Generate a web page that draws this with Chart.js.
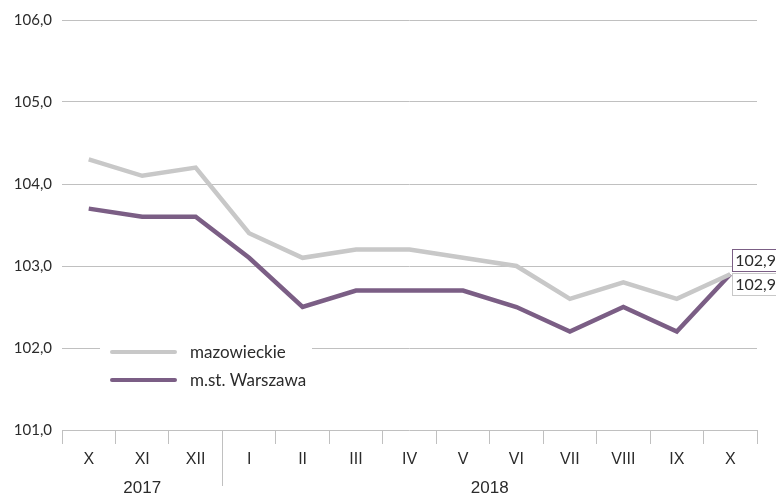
<!DOCTYPE html>
<html>
<head>
<meta charset="utf-8">
<script src="https://cdn.jsdelivr.net/npm/chart.js@4"></script>
<style>
  html, body { margin: 0; padding: 0; background: #fff; }
  #wrap { width: 776px; height: 496px; position: relative; }
</style>
</head>
<body>
<div id="wrap"><canvas id="chart"></canvas></div>
<script>
// months Oct 2017 - Oct 2018
const months = ['X', 'XI', 'XII', 'I', 'II', 'III', 'IV', 'V', 'VI', 'VII', 'VIII', 'IX', 'X'];
const years = [
  { label: '2017', from: 0, to: 2 },
  { label: '2018', from: 3, to: 12 },
];
const mazowieckie = [104.3, 104.1, 104.2, 103.4, 103.1, 103.2, 103.2, 103.1, 103.0, 102.6, 102.8, 102.6, 102.9];
const warszawa = [103.7, 103.6, 103.6, 103.1, 102.5, 102.7, 102.7, 102.7, 102.5, 102.2, 102.5, 102.2, 102.9];

const GRAY = '#c8c8c8';
const PURPLE = '#7b5e85';
const GRID = '#c0c0c0';
const TEXT = '#2b2b2b';
const NARROW = '"Liberation Sans Narrow", "Liberation Sans", sans-serif';

const fmt = v => v.toFixed(1).replace('.', ',');

// year labels + the long separator tick under the x axis
const yearPlugin = {
  id: 'years',
  afterDraw(chart) {
    const { ctx, scales: { x }, chartArea } = chart;
    ctx.save();
    ctx.font = '17px ' + NARROW;
    ctx.fillStyle = TEXT;
    ctx.textAlign = 'center';
    ctx.textBaseline = 'middle';
    const half = (x.getPixelForValue(1) - x.getPixelForValue(0)) / 2;
    years.forEach((y, i) => {
      const a = x.getPixelForValue(y.from) - half;
      const b = x.getPixelForValue(y.to) + half;
      ctx.fillText(y.label, (a + b) / 2, 488);
      if (i > 0) {
        ctx.strokeStyle = GRID;
        ctx.lineWidth = 1;
        ctx.beginPath();
        ctx.moveTo(Math.round(a) + 0.5, chartArea.bottom);
        ctx.lineTo(Math.round(a) + 0.5, 486);
        ctx.stroke();
      }
    });
    ctx.restore();
  }
};

// legend box sitting inside the plot
const legendPlugin = {
  id: 'inlegend',
  afterDatasetsDraw(chart) {
    const { ctx } = chart;
    ctx.save();
    ctx.fillStyle = '#fff';
    ctx.fillRect(100, 338, 212, 54);
    const items = [['mazowieckie', GRAY, 352], ['m.st. Warszawa', PURPLE, 380]];
    ctx.font = '17px Lato, sans-serif';
    ctx.textBaseline = 'middle';
    ctx.lineCap = 'round';
    items.forEach(([label, color, y]) => {
      ctx.strokeStyle = color;
      ctx.lineWidth = 4;
      ctx.beginPath();
      ctx.moveTo(112, y);
      ctx.lineTo(175, y);
      ctx.stroke();
      ctx.fillStyle = TEXT;
      ctx.fillText(label, 190, y + 1);
    });
    ctx.restore();
  }
};

// value boxes at the last point
const endLabelPlugin = {
  id: 'endlabels',
  afterDatasetsDraw(chart) {
    const { ctx } = chart;
    const last = months.length - 1;
    const xs = chart.scales.x.getPixelForValue(last);
    const py = chart.scales.y.getPixelForValue(warszawa[last]);
    const boxes = [
      [fmt(warszawa[last]), PURPLE, py - 25],
      [fmt(mazowieckie[last]), GRAY, py - 1],
    ];
    ctx.save();
    ctx.font = '16px Lato, sans-serif';
    ctx.textBaseline = 'middle';
    boxes.forEach(([txt, color, top]) => {
      const bx = xs + 2;
      ctx.fillStyle = '#fff';
      ctx.fillRect(bx, top, 50, 22);
      ctx.strokeStyle = color;
      ctx.lineWidth = 1;
      ctx.strokeRect(Math.round(bx) + 0.5, Math.round(top) + 0.5, 50, 22);
      ctx.fillStyle = TEXT;
      ctx.fillText(txt, bx + 3, top + 12);
    });
    ctx.restore();
  }
};

new Chart(document.getElementById('chart'), {
  type: 'line',
  data: {
    labels: months,
    datasets: [
      { label: 'mazowieckie', data: mazowieckie, borderColor: GRAY, borderWidth: 4.5, pointRadius: 0, tension: 0 },
      { label: 'm.st. Warszawa', data: warszawa, borderColor: PURPLE, borderWidth: 4.5, pointRadius: 0, tension: 0 },
    ],
  },
  options: {
    responsive: true,
    maintainAspectRatio: false,
    animation: false,
    layout: { padding: { top: 20, right: 19, left: 0, bottom: 0 } },
    plugins: { legend: { display: false }, tooltip: { enabled: false } },
    scales: {
      x: {
        offset: true,
        grid: { offset: true, drawOnChartArea: false, drawTicks: true, tickLength: 14, color: GRID },
        border: { display: false },
        ticks: {
          color: TEXT,
          padding: 6,
          maxRotation: 0,
          autoSkip: false,
          font: { family: NARROW, size: 16 },
        },
        afterFit(s) { s.height = 66; },
      },
      y: {
        min: 101,
        max: 106,
        ticks: {
          stepSize: 1,
          color: TEXT,
          padding: 10,
          font: { family: 'Lato, sans-serif', size: 15 },
          callback: v => fmt(v),
        },
        grid: { drawTicks: false, color: GRID },
        border: { display: false },
        afterFit(s) { s.width = 62; },
      },
    },
  },
  plugins: [yearPlugin, legendPlugin, endLabelPlugin],
});
</script>
</body>
</html>
